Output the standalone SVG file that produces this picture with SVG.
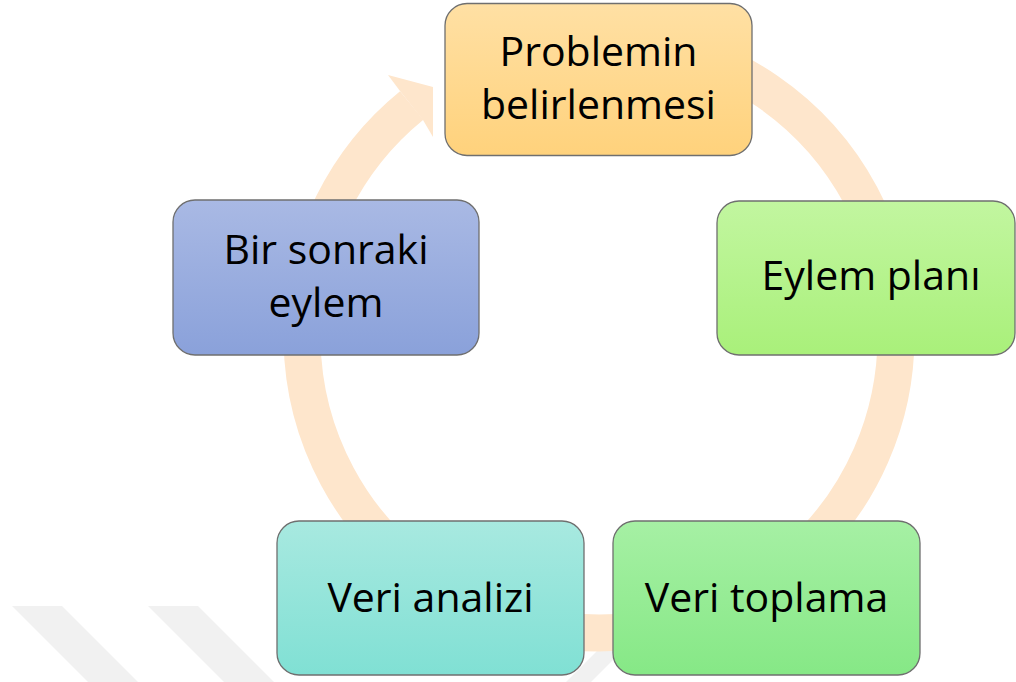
<svg xmlns="http://www.w3.org/2000/svg" width="1016" height="682" viewBox="0 0 1016 682">
  <style>
    .box { stroke: #6f6f6f; stroke-width: 1.3; }
    .lbl { font-family: "Open Sans", "Liberation Sans", sans-serif; font-size: 41px; fill: #000; text-anchor: middle; }
    .wm { fill: #f1f1f1; }
    .ring { fill: none; stroke: #fee6cc; stroke-width: 37; }
  </style>
  <defs>
    <linearGradient id="gOrange" x1="0" y1="0" x2="0" y2="1">
      <stop offset="0" stop-color="#ffe0a4"/>
      <stop offset="1" stop-color="#ffd27c"/>
    </linearGradient>
    <linearGradient id="gLime" x1="0" y1="0" x2="0" y2="1">
      <stop offset="0" stop-color="#c2f6a0"/>
      <stop offset="1" stop-color="#a9f07a"/>
    </linearGradient>
    <linearGradient id="gGreen" x1="0" y1="0" x2="0" y2="1">
      <stop offset="0" stop-color="#a6f0a4"/>
      <stop offset="1" stop-color="#86e886"/>
    </linearGradient>
    <linearGradient id="gTeal" x1="0" y1="0" x2="0" y2="1">
      <stop offset="0" stop-color="#a8e9e0"/>
      <stop offset="1" stop-color="#80e0d4"/>
    </linearGradient>
    <linearGradient id="gBlue" x1="0" y1="0" x2="0" y2="1">
      <stop offset="0" stop-color="#a9b9e4"/>
      <stop offset="1" stop-color="#8aa1da"/>
    </linearGradient>
  </defs>

  <g id="watermark">
    <polygon class="wm" points="12,606 62,606 138,682 88,682"/>
    <polygon class="wm" points="148,606 198,606 274,682 224,682"/>
    <polygon class="wm" points="566,682 600,648 613,648 613,660 591,682"/>
  </g>

  <g id="connectors">
    <path class="ring" d="M 650.6 43.5 A 297 297 0 1 1 411.7 105.5"/>
    <polygon fill="#fee6cc" points="388,75 433,87 433,137 423,120 400,91"/>
  </g>

  <g id="node-problem">
    <rect class="box" x="445" y="3.5" width="307" height="152" rx="22" fill="url(#gOrange)"/>
    <text class="lbl" x="598.5" y="66">Problemin</text>
    <text class="lbl" x="598.5" y="119">belirlenmesi</text>
  </g>

  <g id="node-eylem-plani">
    <rect class="box" x="717" y="201" width="298" height="154" rx="22" fill="url(#gLime)"/>
    <text class="lbl" x="871" y="290">Eylem planı</text>
  </g>

  <g id="node-veri-toplama">
    <rect class="box" x="613" y="521" width="307" height="154" rx="22" fill="url(#gGreen)"/>
    <text class="lbl" x="766.5" y="612">Veri toplama</text>
  </g>

  <g id="node-veri-analizi">
    <rect class="box" x="277" y="521" width="307" height="154" rx="22" fill="url(#gTeal)"/>
    <text class="lbl" x="430.5" y="612">Veri analizi</text>
  </g>

  <g id="node-bir-sonraki">
    <rect class="box" x="173" y="200" width="306" height="155" rx="22" fill="url(#gBlue)"/>
    <text class="lbl" x="326" y="264">Bir sonraki</text>
    <text class="lbl" x="326" y="317">eylem</text>
  </g>
</svg>
